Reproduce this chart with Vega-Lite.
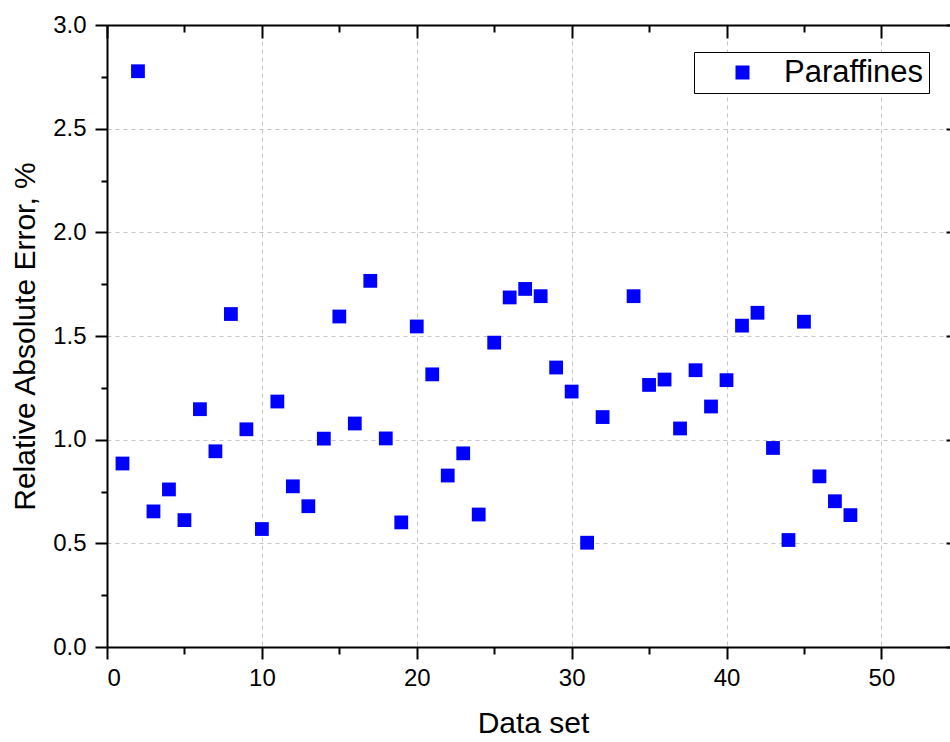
{
  "$schema": "https://vega.github.io/schema/vega-lite/v6.json",
  "width": 843,
  "height": 622,
  "autosize": {"type": "none"},
  "padding": {"left": 107, "top": 25, "right": 0, "bottom": 95},
  "background": "white",
  "config": {
    "view": {"stroke": null},
    "font": "Liberation Sans",
    "axis": {
      "labelFont": "Liberation Sans",
      "titleFont": "Liberation Sans",
      "labelColor": "black",
      "titleColor": "black",
      "domainColor": "black",
      "tickColor": "black",
      "domainWidth": 2,
      "tickWidth": 2,
      "titleFontWeight": "normal",
      "labelFontSize": 24,
      "titleFontSize": 30
    }
  },
  "data": {
    "values": [
      {"set": 1, "error": 0.885, "series": "Paraffines"},
      {"set": 2, "error": 2.777, "series": "Paraffines"},
      {"set": 3, "error": 0.654, "series": "Paraffines"},
      {"set": 4, "error": 0.760, "series": "Paraffines"},
      {"set": 5, "error": 0.612, "series": "Paraffines"},
      {"set": 6, "error": 1.147, "series": "Paraffines"},
      {"set": 7, "error": 0.944, "series": "Paraffines"},
      {"set": 8, "error": 1.606, "series": "Paraffines"},
      {"set": 9, "error": 1.050, "series": "Paraffines"},
      {"set": 10, "error": 0.569, "series": "Paraffines"},
      {"set": 11, "error": 1.184, "series": "Paraffines"},
      {"set": 12, "error": 0.775, "series": "Paraffines"},
      {"set": 13, "error": 0.679, "series": "Paraffines"},
      {"set": 14, "error": 1.005, "series": "Paraffines"},
      {"set": 15, "error": 1.594, "series": "Paraffines"},
      {"set": 16, "error": 1.078, "series": "Paraffines"},
      {"set": 17, "error": 1.766, "series": "Paraffines"},
      {"set": 18, "error": 1.006, "series": "Paraffines"},
      {"set": 19, "error": 0.601, "series": "Paraffines"},
      {"set": 20, "error": 1.546, "series": "Paraffines"},
      {"set": 21, "error": 1.315, "series": "Paraffines"},
      {"set": 22, "error": 0.827, "series": "Paraffines"},
      {"set": 23, "error": 0.934, "series": "Paraffines"},
      {"set": 24, "error": 0.639, "series": "Paraffines"},
      {"set": 25, "error": 1.468, "series": "Paraffines"},
      {"set": 26, "error": 1.686, "series": "Paraffines"},
      {"set": 27, "error": 1.727, "series": "Paraffines"},
      {"set": 28, "error": 1.692, "series": "Paraffines"},
      {"set": 29, "error": 1.348, "series": "Paraffines"},
      {"set": 30, "error": 1.232, "series": "Paraffines"},
      {"set": 31, "error": 0.503, "series": "Paraffines"},
      {"set": 32, "error": 1.109, "series": "Paraffines"},
      {"set": 34, "error": 1.692, "series": "Paraffines"},
      {"set": 35, "error": 1.264, "series": "Paraffines"},
      {"set": 36, "error": 1.290, "series": "Paraffines"},
      {"set": 37, "error": 1.054, "series": "Paraffines"},
      {"set": 38, "error": 1.335, "series": "Paraffines"},
      {"set": 39, "error": 1.160, "series": "Paraffines"},
      {"set": 40, "error": 1.287, "series": "Paraffines"},
      {"set": 41, "error": 1.550, "series": "Paraffines"},
      {"set": 42, "error": 1.612, "series": "Paraffines"},
      {"set": 43, "error": 0.960, "series": "Paraffines"},
      {"set": 44, "error": 0.516, "series": "Paraffines"},
      {"set": 45, "error": 1.569, "series": "Paraffines"},
      {"set": 46, "error": 0.823, "series": "Paraffines"},
      {"set": 47, "error": 0.703, "series": "Paraffines"},
      {"set": 48, "error": 0.636, "series": "Paraffines"}
    ]
  },
  "resolve": {"axis": {"x": "independent", "y": "independent"}},
  "layer": [
    {
      "mark": {"type": "square", "size": 190, "filled": true, "opacity": 1, "strokeWidth": 0},
      "encoding": {
        "x": {
          "field": "set", "type": "quantitative",
          "scale": {"domain": [0, 54.43], "nice": false, "zero": false},
          "axis": {
            "orient": "bottom", "title": "Data set",
            "values": [0, 10, 20, 30, 40, 50], "format": "d",
            "tickSize": 12, "tickWidth": 2, "domainWidth": 2, "domainColor": "black", "tickColor": "black",
            "labelFontSize": 24, "labelPadding": 7, "titlePadding": 18, "titleFontSize": 30,
            "titleX": 426, "titleAlign": "center",
            "grid": true, "gridColor": "#c4c4c4", "gridDash": [4, 4], "gridWidth": 1
          }
        },
        "y": {
          "field": "error", "type": "quantitative",
          "scale": {"domain": [0, 3], "nice": false},
          "axis": {
            "orient": "left", "title": "Relative Absolute Error, %",
            "values": [0, 0.5, 1, 1.5, 2, 2.5, 3], "format": ".1f",
            "tickSize": 12, "tickWidth": 2, "domainWidth": 2, "domainColor": "black", "tickColor": "black",
            "labelFontSize": 24, "labelPadding": 9, "titlePadding": 12, "titleFontSize": 30,
            "grid": true, "gridColor": "#c4c4c4", "gridDash": [4, 4], "gridWidth": 1
          }
        },
        "color": {
          "field": "series", "type": "nominal",
          "scale": {"range": ["#0000ff"]},
          "legend": {
            "title": null, "orient": "none", "legendX": 587, "legendY": 27,
            "padding": 5, "strokeColor": "black", "fillColor": "white",
            "symbolType": "square", "symbolSize": 196, "symbolStrokeWidth": 0,
            "symbolOffset": 28, "labelOffset": 26,
            "labelFont": "Liberation Sans", "labelFontSize": 31, "labelColor": "black", "labelLimit": 400
          }
        }
      }
    },
    {
      "mark": {"type": "point", "opacity": 0},
      "encoding": {
        "x": {
          "field": "set", "type": "quantitative",
          "axis": {"orient": "bottom", "title": null, "values": [5, 15, 25, 35, 45], "labels": false, "domain": false, "grid": false, "tickSize": 7, "tickWidth": 2, "tickColor": "black"}
        },
        "y": {
          "field": "error", "type": "quantitative",
          "axis": {"orient": "left", "title": null, "values": [0.25, 0.75, 1.25, 1.75, 2.25, 2.75], "labels": false, "domain": false, "grid": false, "tickSize": 6, "tickWidth": 2, "tickColor": "black"}
        }
      }
    },
    {
      "mark": {"type": "point", "opacity": 0},
      "encoding": {
        "x": {
          "field": "set", "type": "quantitative",
          "axis": {"orient": "top", "title": null, "values": [0, 10, 20, 30, 40, 50], "labels": false, "domain": true, "domainWidth": 2, "domainColor": "black", "grid": false, "tickSize": -13, "tickWidth": 2, "tickColor": "black"}
        },
        "y": {
          "field": "error", "type": "quantitative",
          "axis": {"orient": "right", "title": null, "values": [0, 0.5, 1, 1.5, 2, 2.5, 3], "labels": false, "domain": false, "grid": false, "tickSize": -4, "tickWidth": 2, "tickColor": "black"}
        }
      }
    },
    {
      "mark": {"type": "point", "opacity": 0},
      "encoding": {
        "x": {
          "field": "set", "type": "quantitative",
          "axis": {"orient": "top", "title": null, "values": [5, 15, 25, 35, 45], "labels": false, "domain": false, "grid": false, "tickSize": -7, "tickWidth": 2, "tickColor": "black"}
        },
        "y": {
          "field": "error", "type": "quantitative",
          "axis": {"orient": "left", "title": null, "values": [0.25], "labels": false, "domain": false, "grid": false, "ticks": false}
        }
      }
    }
  ]
}
